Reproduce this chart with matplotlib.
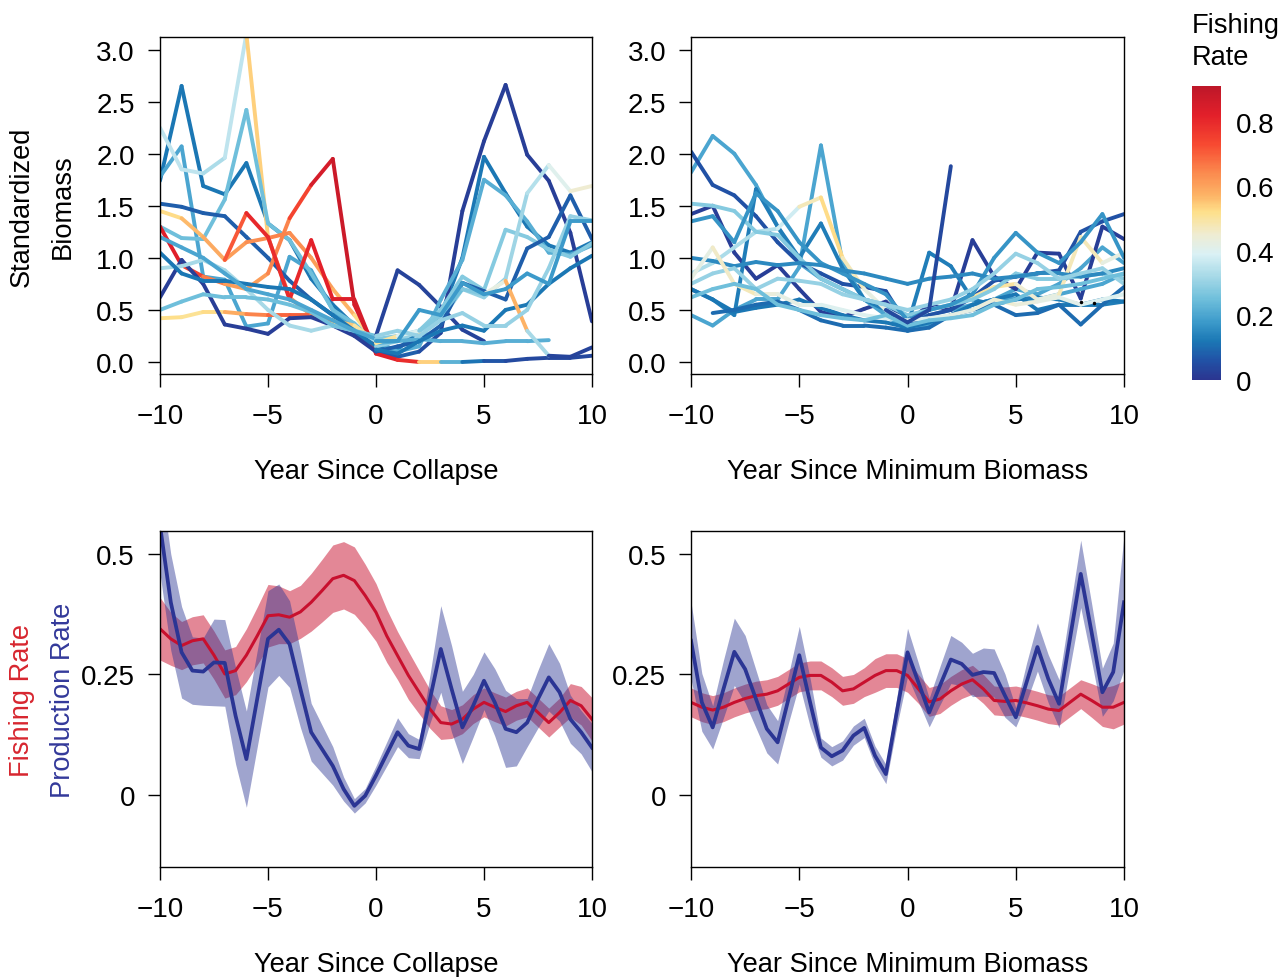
import numpy as np
import matplotlib
matplotlib.use("Agg")
import matplotlib.pyplot as plt
from matplotlib.collections import LineCollection
from matplotlib.colors import Normalize, LinearSegmentedColormap
from matplotlib.cm import ScalarMappable

plt.rcParams['font.family'] = ['Liberation Sans', 'DejaVu Sans']

N = None
years = list(range(-10, 11))
half_years = [y / 2 for y in range(-20, 21)]

# ---- top left: standardized biomass vs year since collapse ----
coll_biomass = [
    [1.74, 2.65, 1.69, 1.61, 1.91, 1.33, 1.17, 0.80, 0.55, 0.35, 0.15, 0.12, 0.30, 0.45, 1.00, 1.97, 1.62, 1.30, 1.12, 1.05, 1.15],
    [1.78, 2.07, 0.82, 0.79, 0.34, 0.37, 1.01, 0.88, 0.50, 0.30, 0.20, N, N, N, N, N, N, N, N, N, N],
    [2.25, 1.85, 1.81, 1.96, 3.15, 1.20, 0.62, 0.45, 0.38, 0.30, 0.15, N, N, N, N, N, N, N, N, N, N],
    [1.30, 1.19, 1.18, 1.56, 2.42, 1.33, 1.17, 0.85, 0.50, 0.37, 0.18, N, N, N, N, N, N, N, N, N, N],
    [1.52, 1.49, 1.43, 1.40, 1.20, 1.00, 0.78, 0.60, 0.45, 0.28, 0.10, 0.05, 0.10, 0.28, 1.45, 2.12, 2.66, 1.99, 1.74, 1.24, 0.39],
    [1.45, 1.38, 1.20, 0.98, 1.15, 1.19, 1.24, 1.00, 0.70, 0.45, 0.18, 0.25, 0.28, N, N, N, N, N, N, N, N],
    [1.30, 0.93, 0.82, 0.75, 0.70, 0.85, 1.38, 1.70, 1.95, 0.55, 0.10, N, N, N, N, N, N, N, N, N, N],
    [N, N, N, 0.98, 1.43, 1.20, 0.60, 1.17, 0.60, 0.60, 0.08, 0.02, 0.00, 0.00, 0.00, 0.01, 0.01, 0.03, 0.04, 0.04, 0.06],
    [0.42, 0.43, 0.48, 0.48, 0.46, 0.45, 0.45, 0.45, 0.40, 0.35, 0.20, N, N, N, N, N, N, N, N, N, N],
    [0.62, 0.98, 0.75, 0.36, 0.32, 0.27, 0.42, 0.43, 0.35, 0.25, 0.10, N, N, N, N, N, N, N, N, N, N],
    [0.90, 0.92, 0.98, 0.88, 0.70, 0.50, 0.35, 0.30, 0.35, 0.30, 0.20, N, N, N, N, N, N, N, N, N, N],
    [1.05, 0.85, 0.78, 0.78, 0.75, 0.72, 0.70, 0.60, 0.45, 0.30, 0.15, N, N, N, N, N, N, N, N, N, N],
    [0.50, 0.58, 0.65, 0.62, 0.62, 0.60, 0.55, 0.48, 0.35, 0.30, 0.25, N, N, N, N, N, N, N, N, N, N],
    [1.20, 1.10, 1.00, 0.85, 0.70, 0.65, 0.60, 0.50, 0.40, 0.30, 0.22, N, N, N, N, N, N, N, N, N, N],
    [N, N, N, N, N, N, N, N, N, N, 0.25, 0.88, 0.74, 0.53, 0.31, 0.20, N, N, N, N, N],
    [N, N, N, N, N, N, N, N, N, N, 0.20, 0.10, 0.15, 0.60, 0.98, 1.75, 1.60, 1.35, 1.05, 1.03, 1.12],
    [N, N, N, N, N, N, N, N, N, N, 0.22, 0.25, 0.30, 0.50, 0.82, 0.69, 1.27, 1.20, 1.08, 1.01, 1.14],
    [N, N, N, N, N, N, N, N, N, N, 0.15, 0.20, 0.30, 0.40, 0.70, 0.62, 0.80, 1.62, 1.89, 1.64, 1.69],
    [N, N, N, N, N, N, N, N, N, N, 0.10, 0.15, 0.20, 0.35, 0.76, 0.68, 0.60, 1.09, 1.20, 1.60, 1.18],
    [N, N, N, N, N, N, N, N, N, N, 0.18, 0.20, 0.22, 0.20, 0.20, 0.18, 0.20, 0.20, 0.21, N, N],
    [N, N, N, N, N, N, N, N, N, N, 0.12, 0.08, 0.20, 0.30, 0.35, 0.30, 0.50, 0.55, 0.75, 0.90, 1.02],
    [N, N, N, N, N, N, N, N, N, N, 0.18, 0.25, 0.30, 0.45, 0.70, 0.65, 0.78, 0.30, 0.06, 0.05, 0.14],
    [N, N, N, N, N, N, N, N, N, N, 0.25, 0.30, 0.25, 0.40, 0.47, 0.35, 0.35, 0.50, 0.90, 1.40, 1.36],
    [N, N, N, N, N, N, N, N, N, N, 0.20, 0.20, 0.50, 0.45, 0.76, 0.65, 0.70, 0.85, 0.75, 1.35, 1.35],
]
coll_rate = [
    0.12,
    0.20,
    [0.33, 0.38, 0.33, 0.33, 0.38, 0.70, 0.64, 0.60, 0.55, 0.50, 0.50] + [0] * 10,
    0.25,
    [0.08] * 13 + [0.02] * 8,
    [0.50, 0.55, 0.58, 0.60, 0.62, 0.65, 0.65, 0.62, 0.60, 0.55, 0.50, 0.50, 0.50] + [0] * 8,
    [0.85, 0.80, 0.70, 0.62, 0.60, 0.62, 0.68, 0.80, 0.90, 0.85, 0.85] + [0] * 10,
    [0, 0, 0, 0.62, 0.80, 0.80, 0.78, 0.82, 0.82, 0.85, 0.85, 0.80, 0.78, 0.30, 0.15, 0.08, 0.05, 0.04, 0.04, 0.04, 0.04],
    [0.52, 0.52, 0.50, 0.55, 0.62, 0.68, 0.70, 0.70, 0.60, 0.50, 0.50] + [0] * 10,
    0.02,
    0.32,
    0.12,
    0.25,
    0.20,
    0.03,
    0.22,
    0.28,
    [0] * 10 + [0.30, 0.30, 0.30, 0.30, 0.30, 0.30, 0.30, 0.32, 0.36, 0.45, 0.45],
    0.08,
    0.22,
    0.12,
    [0] * 10 + [0.50, 0.50, 0.30, 0.25, 0.25, 0.30, 0.55, 0.60, 0.04, 0.03, 0.03],
    0.30,
    0.18,
]

# ---- top right: standardized biomass vs year since minimum biomass ----
min_biomass = [
    [1.82, 2.17, 2.00, 1.70, 1.30, 0.95, 0.80, 0.70, 0.60, 0.55, 0.40, 0.45, 0.50, 0.55, 0.60, 0.70, 0.65, 0.75, 0.90, 1.10, 0.95],
    [1.42, 1.50, 1.05, 0.80, 0.93, 0.70, 0.48, 0.43, 0.51, 0.58, 0.38, 0.55, 0.50, 1.17, 0.82, 0.70, 1.05, 1.04, 0.61, 1.30, 1.18],
    [2.02, 1.70, 1.60, 1.40, 1.15, 0.95, 0.85, 0.75, 0.72, 0.68, 0.35, 0.45, 0.50, 0.62, 0.78, 0.82, 0.85, 0.88, 1.25, 1.35, 1.42],
    [0.45, 0.35, 0.50, 0.60, 0.60, 0.91, 2.08, 0.95, 0.60, 0.45, 0.30, 0.35, 0.45, 0.55, 0.60, 0.60, 0.60, 0.65, 0.70, 0.75, 0.85],
    [0.70, 0.60, 0.45, 1.66, 1.30, 1.00, 1.33, 0.90, 0.60, 0.50, 0.35, 1.05, 0.92, 0.60, 0.55, 0.60, 0.62, 0.60, 0.55, 0.55, 0.58],
    [0.85, 0.95, 1.10, 1.25, 1.28, 1.49, 1.58, 1.00, 0.70, 0.50, 0.40, 0.50, 0.55, 0.62, 0.72, 0.75, 0.60, 0.65, 1.20, 0.95, 1.05],
    [1.52, 1.50, 1.45, 1.25, 1.22, 1.00, 0.80, 0.70, 0.60, 0.55, 0.45, 0.50, 0.55, 0.60, 0.70, 0.85, 0.80, 0.80, 0.82, 0.85, 0.80],
    [1.35, 1.40, 1.15, 1.62, 1.45, 1.15, 0.95, 0.85, 0.75, 0.65, 0.40, 0.50, 0.55, 0.65, 1.00, 1.24, 1.05, 0.95, 1.15, 1.42, 1.00],
    [1.00, 0.97, 0.92, 0.96, 0.93, 0.95, 0.93, 0.88, 0.85, 0.80, 0.75, 0.80, 0.82, 0.85, 0.80, 0.82, 0.85, 0.85, 0.82, 0.85, 0.90],
    [0.75, 0.85, 0.90, 0.70, 0.80, 0.78, 0.75, 0.65, 0.60, 0.55, 0.50, 0.55, 0.60, 0.70, 0.85, 1.04, 0.95, 0.80, 0.85, 0.90, 0.75],
    [0.70, 0.60, 0.48, 0.52, 0.55, 0.60, 0.52, 0.45, 0.40, 0.38, 0.33, 0.38, 0.45, 0.55, 0.60, 0.65, 0.50, 0.55, 0.55, 0.60, 0.58],
    [N, 0.47, 0.50, 0.55, 0.58, 0.50, 0.40, 0.35, 0.35, 0.33, 0.30, 0.33, 0.45, 0.50, 0.55, 0.45, 0.47, 0.55, 0.36, 0.55, 0.72],
    [0.80, 1.10, 0.75, 0.65, 0.65, 0.55, 0.55, 0.50, 0.45, 0.42, 0.40, 0.42, 0.45, 0.50, 0.60, 0.55, 0.58, 0.62, 0.55, 0.60, 0.65],
    [0.62, 0.70, 0.75, 0.70, 0.55, 0.50, 0.45, 0.42, 0.40, 0.45, 0.35, 0.40, 0.42, 0.45, 0.55, 0.60, 0.70, 0.72, 0.75, 0.80, 0.85],
    [N, N, N, N, N, N, N, N, N, 0.50, 0.38, 0.50, 1.88, N, N, N, N, N, N, N, N],
]
min_rate = [
    0.20,
    0.02,
    0.06,
    0.20,
    0.13,
    [0.33, 0.33, 0.33, 0.33, 0.35, 0.40, 0.55, 0.50, 0.45, 0.40, 0.35, 0.40, 0.45, 0.50, 0.50, 0.50, 0.40, 0.45, 0.50, 0.45, 0.40],
    0.28,
    0.17,
    0.15,
    0.30,
    0.12,
    0.10,
    [0.42, 0.42, 0.50, 0.45, 0.42, 0.42, 0.40, 0.40, 0.40, 0.40, 0.40, 0.40, 0.42, 0.42, 0.45, 0.45, 0.42, 0.42, 0.40, 0.40, 0.40],
    0.25,
    0.04,
]
dot_years = [8, 8.6]
dot_vals = [0.58, 0.57]

# ---- bottom: mean fishing and production rates (half-year steps) ----
coll_fish = [0.345, 0.324, 0.31, 0.32, 0.324, 0.29, 0.251, 0.258, 0.29, 0.33, 0.372, 0.374, 0.369, 0.38, 0.40,
             0.424, 0.449, 0.456, 0.445, 0.414, 0.379, 0.33, 0.289, 0.248, 0.213, 0.178, 0.15, 0.147, 0.157,
             0.178, 0.192, 0.182, 0.173, 0.185, 0.192, 0.171, 0.15, 0.171, 0.196, 0.185, 0.157]
coll_fish_se = [0.065, 0.055, 0.05, 0.05, 0.05, 0.05, 0.05, 0.05, 0.055, 0.06, 0.065, 0.06, 0.055, 0.055, 0.06,
                0.065, 0.07, 0.07, 0.07, 0.065, 0.06, 0.055, 0.05, 0.05, 0.045, 0.04, 0.035, 0.03, 0.03,
                0.03, 0.03, 0.03, 0.03, 0.03, 0.03, 0.03, 0.03, 0.03, 0.035, 0.04, 0.045]
coll_prod = [0.56, 0.40, 0.296, 0.258, 0.256, 0.275, 0.274, 0.164, 0.074, 0.199, 0.324, 0.343, 0.313, 0.22, 0.13,
             0.095, 0.06, 0.012, -0.023, -0.002, 0.04, 0.085, 0.13, 0.102, 0.095, 0.199, 0.303, 0.22, 0.14,
             0.185, 0.237, 0.192, 0.137, 0.13, 0.15, 0.199, 0.244, 0.213, 0.157, 0.13, 0.098]
coll_prod_se = [0.10, 0.10, 0.095, 0.07, 0.07, 0.09, 0.09, 0.10, 0.10, 0.10, 0.10, 0.095, 0.09, 0.08, 0.06,
                0.05, 0.04, 0.025, 0.015, 0.015, 0.02, 0.025, 0.03, 0.025, 0.02, 0.05, 0.09, 0.09, 0.075,
                0.065, 0.06, 0.07, 0.08, 0.07, 0.05, 0.06, 0.07, 0.06, 0.05, 0.045, 0.05]

min_fish = [0.192, 0.182, 0.176, 0.182, 0.192, 0.20, 0.206, 0.209, 0.216, 0.23, 0.244, 0.248, 0.248, 0.234, 0.216,
            0.22, 0.234, 0.248, 0.258, 0.258, 0.248, 0.22, 0.193, 0.199, 0.216, 0.23, 0.239, 0.22, 0.196,
            0.194, 0.196, 0.191, 0.185, 0.178, 0.175, 0.192, 0.209, 0.196, 0.182, 0.182, 0.192]
min_fish_se = [0.03, 0.03, 0.03, 0.03, 0.03, 0.03, 0.03, 0.03, 0.03, 0.03, 0.03, 0.03, 0.03, 0.03, 0.03,
               0.03, 0.03, 0.035, 0.035, 0.035, 0.035, 0.03, 0.03, 0.03, 0.03, 0.03, 0.03, 0.03, 0.03,
               0.03, 0.03, 0.03, 0.03, 0.03, 0.03, 0.03, 0.03, 0.035, 0.04, 0.045, 0.045]
min_prod = [0.32, 0.192, 0.14, 0.22, 0.297, 0.261, 0.199, 0.137, 0.109, 0.199, 0.29, 0.192, 0.098, 0.08, 0.092,
            0.123, 0.139, 0.081, 0.043, 0.171, 0.296, 0.234, 0.171, 0.227, 0.281, 0.272, 0.249, 0.255, 0.253,
            0.206, 0.161, 0.234, 0.307, 0.241, 0.189, 0.324, 0.459, 0.338, 0.213, 0.255, 0.40]
min_prod_se = [0.08, 0.06, 0.045, 0.06, 0.07, 0.07, 0.06, 0.05, 0.045, 0.05, 0.06, 0.05, 0.02, 0.02, 0.02,
               0.02, 0.02, 0.02, 0.02, 0.03, 0.05, 0.04, 0.03, 0.04, 0.05, 0.045, 0.045, 0.05, 0.05,
               0.045, 0.02, 0.04, 0.05, 0.05, 0.05, 0.06, 0.07, 0.06, 0.05, 0.06, 0.14]

# colour scale (value, colour)
cbar_max = 0.91
cmap_nodes = [0.0, 0.06, 0.12, 0.18, 0.25, 0.32, 0.39, 0.45, 0.52, 0.57, 0.64, 0.73, 0.82, 0.91]
cmap_cols = ['#2b3590', '#2152a6', '#1b78b5', '#3d9bcb', '#6fbfdb', '#a6d9e7', '#daf1f5',
             '#efecd2', '#fee08b', '#fdb567', '#fb8b4f', '#f74a31', '#e3202a', '#bd1729']
cmap = LinearSegmentedColormap.from_list(
    'fishing', [(v / cbar_max, c) for v, c in zip(cmap_nodes, cmap_cols)])
norm = Normalize(vmin=0, vmax=cbar_max)
red = '#c8102e'
blue = '#2b3594'
fs = 20
fs_lab = 19.6


def draw_series(ax, values, rates):
    if not isinstance(rates, list):
        rates = [rates] * len(values)
    segs, cols = [], []
    for i in range(len(values) - 1):
        if values[i] is None or values[i + 1] is None:
            continue
        segs.append([(years[i], values[i]), (years[i + 1], values[i + 1])])
        cols.append(cmap(norm((rates[i] + rates[i + 1]) / 2)))
    ax.add_collection(LineCollection(segs, colors=cols, linewidths=2.8,
                                     capstyle='round', joinstyle='round'))


def style_axes(ax, ylim, yticks, ylabels, xlabel):
    ax.set_xlim(-10, 10)
    ax.set_ylim(*ylim)
    ax.set_xticks([-10, -5, 0, 5, 10])
    ax.set_xticklabels(['\u221210', '\u22125', '0', '5', '10'])
    ax.set_yticks(yticks)
    ax.set_yticklabels(ylabels)
    ax.tick_params(axis='both', direction='out', length=9, width=1.0, labelsize=fs)
    ax.tick_params(axis='x', pad=12)
    ax.tick_params(axis='y', pad=9)
    for sp in ax.spines.values():
        sp.set_linewidth(1.0)
    ax.set_xlabel(xlabel, fontsize=fs_lab, labelpad=20.5)


def draw_rates(ax, fish, fish_se, prod, prod_se):
    f = np.array(fish)
    fe = np.array(fish_se)
    p = np.array(prod)
    pe = np.array(prod_se)
    ax.fill_between(half_years, f - fe, f + fe, color=red, alpha=0.5, lw=0)
    ax.plot(half_years, f, color=red, lw=2.2)
    ax.fill_between(half_years, p - pe, p + pe, color=blue, alpha=0.45, lw=0)
    ax.plot(half_years, p, color=blue, lw=2.7)


fig = plt.figure(figsize=(12.83, 9.78), dpi=100)
ax_tl = fig.add_axes([0.1247, 0.6166, 0.3367, 0.3445])
ax_tr = fig.add_axes([0.5386, 0.6166, 0.3375, 0.3445])
ax_bl = fig.add_axes([0.1247, 0.1125, 0.3367, 0.3435])
ax_br = fig.add_axes([0.5386, 0.1125, 0.3375, 0.3435])

for vals, r in zip(coll_biomass, coll_rate):
    draw_series(ax_tl, vals, r)
for vals, r in zip(min_biomass, min_rate):
    draw_series(ax_tr, vals, r)
ax_tr.plot(dot_years, dot_vals, 'k.', markersize=3)

bio_ticks = [0, 0.5, 1, 1.5, 2, 2.5, 3]
bio_labels = ['0.0', '0.5', '1.0', '1.5', '2.0', '2.5', '3.0']
style_axes(ax_tl, (-0.115, 3.12), bio_ticks, bio_labels, 'Year Since Collapse')
style_axes(ax_tr, (-0.115, 3.12), bio_ticks, bio_labels, 'Year Since Minimum Biomass')

draw_rates(ax_bl, coll_fish, coll_fish_se, coll_prod, coll_prod_se)
draw_rates(ax_br, min_fish, min_fish_se, min_prod, min_prod_se)
style_axes(ax_bl, (-0.15, 0.548), [0, 0.25, 0.5], ['0', '0.25', '0.5'], 'Year Since Collapse')
style_axes(ax_br, (-0.15, 0.548), [0, 0.25, 0.5], ['0', '0.25', '0.5'], 'Year Since Minimum Biomass')

# y labels
fig.text(0.0171, 0.789, 'Standardized', rotation=90, ha='center', va='center', fontsize=fs_lab)
fig.text(0.049, 0.789, 'Biomass', rotation=90, ha='center', va='center', fontsize=fs_lab)
fig.text(0.0171, 0.284, 'Fishing Rate', rotation=90, ha='center', va='center', fontsize=fs_lab, color='#d7262f')
fig.text(0.049, 0.284, 'Production Rate', rotation=90, ha='center', va='center', fontsize=fs_lab, color='#33399a')

# colour bar
cax = fig.add_axes([0.929, 0.6104, 0.0227, 0.3006])
cb = fig.colorbar(ScalarMappable(norm=norm, cmap=cmap), cax=cax)
cb.outline.set_visible(False)
cb.set_ticks([0, 0.2, 0.4, 0.6, 0.8])
cb.set_ticklabels(['0', '0.2', '0.4', '0.6', '0.8'])
cax.tick_params(length=0, labelsize=fs, pad=11)
fig.text(0.929, 0.987, 'Fishing\nRate', ha='left', va='top', fontsize=fs_lab, linespacing=1.3)

fig.savefig('out.png', dpi=100)
